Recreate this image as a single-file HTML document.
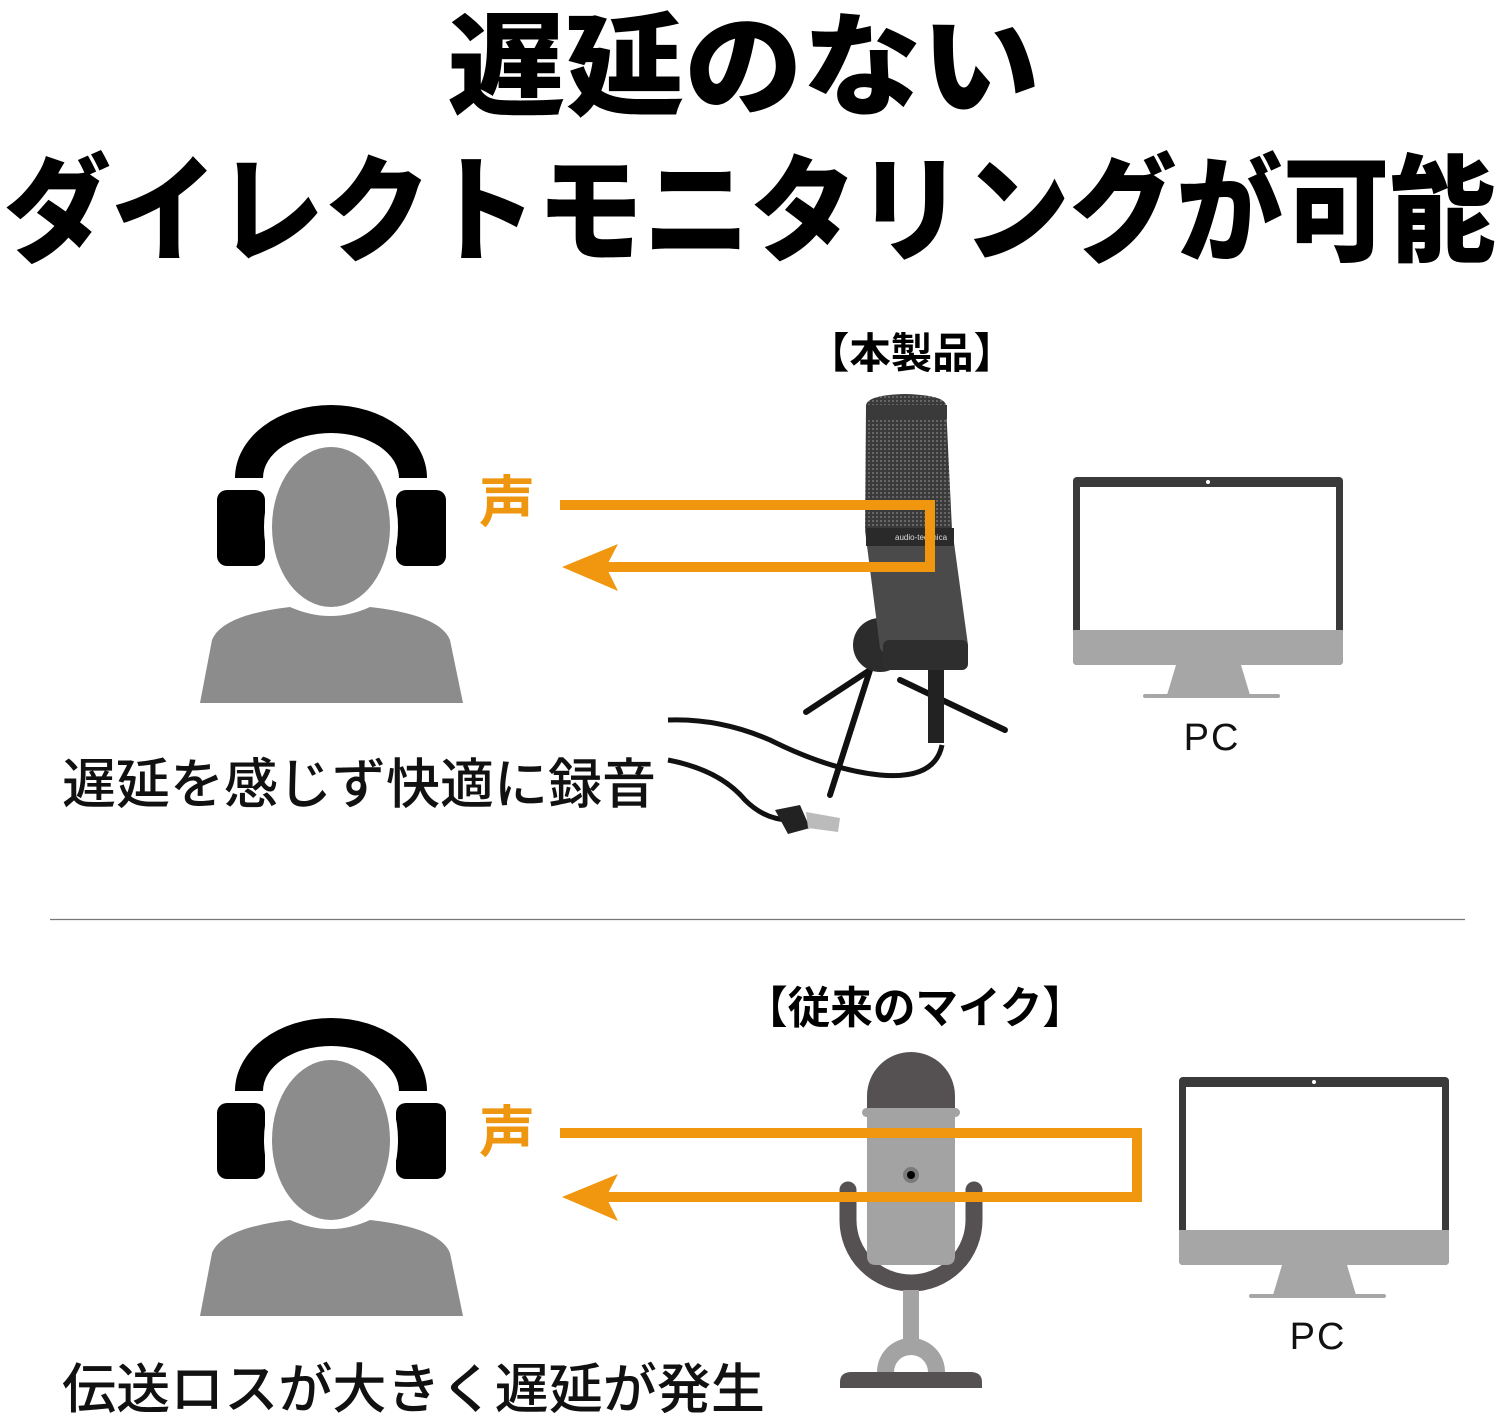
<!DOCTYPE html>
<html><head><meta charset="utf-8"><style>
html,body{margin:0;padding:0;background:#fff;}
svg{display:block;}
text{font-family:"Liberation Sans","Noto Sans CJK JP",sans-serif;}
</style></head><body>
<svg width="1500" height="1420" viewBox="0 0 1500 1420" xmlns="http://www.w3.org/2000/svg">
<defs>
<pattern id="mesh" width="4" height="4" patternUnits="userSpaceOnUse">
  <rect width="4" height="4" fill="#3a3a3a"/><rect width="2" height="2" fill="#666"/>
</pattern>
<g id="person">
  <path d="M235 478 A96 73 0 0 1 427 478 L399 478 A68 45 0 0 0 263 478 Z" fill="#000"/>
  <rect x="217" y="490" width="48" height="76" rx="10" fill="#000"/>
  <rect x="396" y="490" width="50" height="76" rx="10" fill="#000"/>
  <path d="M200 703 L212 640 Q222 615 290 607 Q331 625 370 607 Q440 615 450 640 L463 703 Z" fill="#8c8c8c"/>
  <ellipse cx="331" cy="527" rx="67" ry="88" fill="#fff"/>
  <ellipse cx="331" cy="527" rx="59" ry="80" fill="#8c8c8c"/>
</g>
<g id="monitor">
  <rect x="0" y="0" width="270" height="188" rx="4" fill="#3a3a3a"/>
  <rect x="7" y="10" width="256" height="143" fill="#fff"/>
  <circle cx="135" cy="5" r="2" fill="#fff"/>
  <path d="M0 153 H270 V184 Q270 188 266 188 H4 Q0 188 0 184 Z" fill="#a6a6a6"/>
  <path d="M103 188 H168 L177 218 H94 Z" fill="#a6a6a6"/>
  <rect x="70" y="217" width="137" height="4" rx="2" fill="#a6a6a6"/>
</g>
</defs>

<text x="447" y="106" font-size="112" font-weight="900" textLength="593" lengthAdjust="spacingAndGlyphs">遅延のない</text>
<text x="4" y="252" font-size="116" font-weight="900" textLength="1492" lengthAdjust="spacingAndGlyphs">ダイレクトモニタリングが可能</text>

<text x="808" y="368" font-size="42" font-weight="700" textLength="207" lengthAdjust="spacingAndGlyphs">【本製品】</text>
<use href="#person"/>
<text x="479" y="522" font-size="56" font-weight="700" fill="#EE9610">声</text>

<g>
  <path d="M668 720 Q720 718 770 740 Q830 770 880 775 Q935 780 942 745" stroke="#111" stroke-width="5" fill="none"/>
  <path d="M668 760 Q720 770 745 800 Q765 820 790 820" stroke="#111" stroke-width="5" fill="none"/>
  <path d="M775 810 L800 805 L810 828 L788 834 Z" fill="#222"/>
  <path d="M806 812 L840 818 L838 832 L808 828 Z" fill="#bbb"/>
  <line x1="870" y1="670" x2="806" y2="712" stroke="#111" stroke-width="6" stroke-linecap="round"/>
  <line x1="870" y1="670" x2="830" y2="795" stroke="#111" stroke-width="6" stroke-linecap="round"/>
  <line x1="900" y1="680" x2="1005" y2="730" stroke="#111" stroke-width="6" stroke-linecap="round"/>
  <circle cx="880" cy="645" r="27" fill="#2c2c2c"/>
  <rect x="928" y="668" width="16" height="75" fill="#222"/>
  <path d="M866 405 Q868 395 905 394 Q944 395 946 405 L952 530 L865 530 Z" fill="url(#mesh)"/>
  <rect x="866" y="405" width="81" height="14" fill="#3a3a3a"/>
  <path d="M865 530 L952 528 L968 645 Q945 660 915 660 Q885 660 880 648 Z" fill="#4a4a4a"/>
  <rect x="866" y="528" width="88" height="18" fill="#2a2a2a"/>
  <rect x="883" y="640" width="85" height="30" rx="6" fill="#2e2e2e"/>
  <text x="895" y="540" font-size="8" fill="#ddd">audio-technica</text>
</g>

<use href="#monitor" transform="translate(1073 477)"/>
<text x="1212" y="750" font-size="38" text-anchor="middle" fill="#111" letter-spacing="2">PC</text>

<path d="M560 505 H930 V567 H600" stroke="#F0960F" stroke-width="10" fill="none"/>
<path d="M562 567 L618 544 L606 567 L618 591 Z" fill="#F0960F"/>

<text x="62" y="803" font-size="54" font-weight="500" fill="#111" textLength="594" lengthAdjust="spacingAndGlyphs">遅延を感じず快適に録音</text>

<line x1="50" y1="919.5" x2="1465" y2="919.5" stroke="#777" stroke-width="1.2"/>

<text x="745" y="1023" font-size="44" font-weight="700" textLength="340" lengthAdjust="spacingAndGlyphs">【従来のマイク】</text>
<use href="#person" transform="translate(0 613)"/>
<text x="479" y="1152" font-size="56" font-weight="700" fill="#EE9610">声</text>

<g>
  <path d="M848 1190 V1220 A62 62 0 0 0 974 1220 V1190" stroke="#555153" stroke-width="17" fill="none" stroke-linecap="round"/>
  <path d="M867 1110 V1096 A44 44 0 0 1 955 1096 V1110 Z" fill="#555153"/>
  <rect x="862" y="1108" width="98" height="9" rx="4.5" fill="#a3a3a3"/>
  <path d="M867 1112 H955 V1256 Q955 1265 946 1265 H876 Q867 1265 867 1256 Z" fill="#a3a3a3"/>
  <circle cx="911" cy="1175" r="8" fill="#7a7a7a"/>
  <circle cx="911" cy="1175" r="4" fill="#000"/>
  <rect x="903" y="1290" width="16" height="50" fill="#a3a3a3"/>
  <path d="M877 1372 A34 34 0 0 1 945 1372 H928 A17 17 0 0 0 894 1372 Z" fill="#a3a3a3"/>
  <path d="M840 1388 V1382 Q840 1372 852 1372 H970 Q982 1372 982 1382 V1388 Z" fill="#555153"/>
</g>

<use href="#monitor" transform="translate(1179 1077)"/>
<text x="1318" y="1349" font-size="38" text-anchor="middle" fill="#111" letter-spacing="2">PC</text>

<path d="M560 1133 H1137 V1197 H600" stroke="#F0960F" stroke-width="10" fill="none"/>
<path d="M562 1197 L618 1174 L606 1197 L618 1221 Z" fill="#F0960F"/>

<text x="62" y="1408" font-size="54" font-weight="500" fill="#111" textLength="703" lengthAdjust="spacingAndGlyphs">伝送ロスが大きく遅延が発生</text>
</svg>
</body></html>
